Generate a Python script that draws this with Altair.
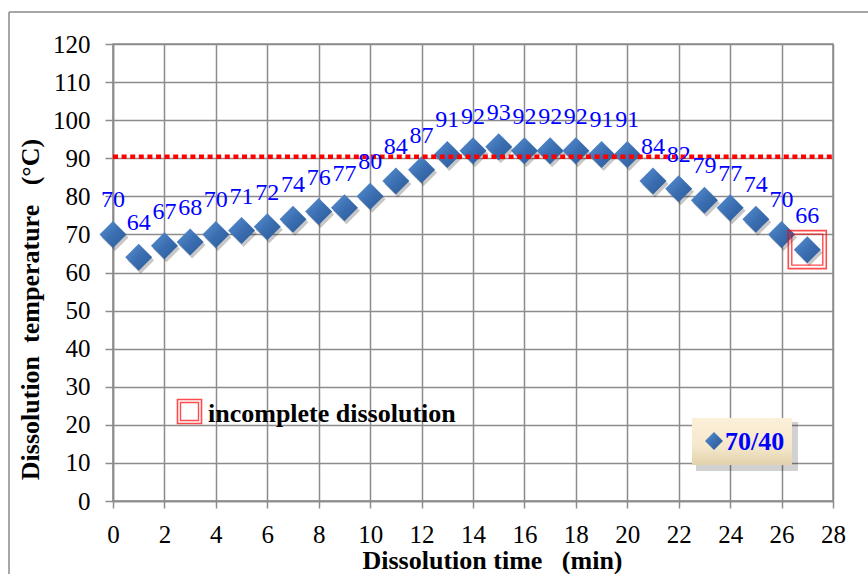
import altair as alt
import pandas as pd

# ---- data ----
time_min = list(range(28))
temperature = [70, 64, 67, 68, 70, 71, 72, 74, 76, 77, 80, 84, 87, 91, 92, 93,
               92, 92, 92, 91, 91, 84, 82, 79, 77, 74, 70, 66]
x_ticks = list(range(0, 29, 2))
y_ticks = list(range(0, 121, 10))
threshold = 90.4
incomplete_time = [27]
incomplete_temp = [66]
series_name = "70/40"
NB = "\u00a0"
x_title = "Dissolution time" + NB * 3 + "(min)"
y_title = "Dissolution" + NB * 2 + "temperature" + NB * 3 + "(°C)"

df = pd.DataFrame({"t": time_min, "T": temperature})
df_inc = pd.DataFrame({"t": incomplete_time, "T": incomplete_temp})
one = pd.DataFrame({"a": [0]})

SERIF = "Liberation Serif"
GRID = "#8c8c8c"

xs = alt.Scale(domain=[0, 28], nice=False, zero=False)
ys = alt.Scale(domain=[0, 120], nice=False)

x_axis = alt.Axis(values=x_ticks, title=x_title, grid=True, labelOverlap=False,
                  labelFlush=False,
                  tickSize=7, labelPadding=14, labelFontSize=25, labelFont=SERIF,
                  labelColor="black", titleFont=SERIF, titleFontSize=26,
                  titleFontWeight="bold", titleColor="black",
                  titleX=379, titleY=67, titleAlign="center",
                  titleBaseline="alphabetic", labelAngle=0)
y_axis = alt.Axis(values=y_ticks, title=y_title, grid=True, labelOverlap=False,
                  labelFlush=False,
                  tickSize=8, labelPadding=15, labelFontSize=25, labelFont=SERIF,
                  labelColor="black", titleFont=SERIF, titleFontSize=26,
                  titleFontWeight="bold", titleColor="black",
                  titleX=-75, titleY=265, titleAlign="center",
                  titleBaseline="alphabetic", titleAngle=-90)

X = alt.X("t:Q", scale=xs, axis=x_axis)
Y = alt.Y("T:Q", scale=ys, axis=y_axis)

diamond_grad = alt.LinearGradient(
    gradient="linear",
    stops=[alt.GradientStop(color="#5a92d4", offset=0),
           alt.GradientStop(color="#3b6fb2", offset=0.5),
           alt.GradientStop(color="#2b5a96", offset=1)],
    x1=0, y1=0, x2=1, y2=1)

base = alt.Chart(df)

shadow = base.mark_point(shape="diamond", filled=True, color="#000000",
                         opacity=0.22, size=729, xOffset=2, yOffset=3,
                         strokeWidth=0).encode(x=X, y=Y)

points = base.mark_point(shape="diamond", filled=True, fill=diamond_grad,
                         size=729, strokeWidth=0, opacity=1).encode(x=X, y=Y)

labels = base.mark_text(font=SERIF, fontSize=24, color="#0000ff",
                        align="center", baseline="alphabetic", dy=-27).encode(
    x=X, y=Y, text="T:Q")

thresh = alt.Chart(one).mark_rule(color="#ff0000", strokeWidth=4.5,
                                  strokeDash=[5, 3.6]).encode(
    y=alt.datum(threshold, scale=ys, axis=y_axis), x=alt.value(0), x2=alt.value(720))

box_outer = alt.Chart(df_inc).mark_square(filled=False, color="#ff0000",
                                          strokeWidth=1.6, size=38 * 38).encode(x=X, y=Y)
box_inner = alt.Chart(df_inc).mark_square(filled=False, color="#ff0000",
                                          strokeWidth=1.4, size=31 * 31).encode(x=X, y=Y)

# annotation "incomplete dissolution"
ann_sq1 = alt.Chart(one).mark_square(filled=False, color="#ff0000",
                                     strokeWidth=1.6, size=24 * 24).encode(
    x=alt.value(76.5), y=alt.value(367.5))
ann_sq2 = alt.Chart(one).mark_square(filled=False, color="#ff0000",
                                     strokeWidth=1.4, size=18 * 18).encode(
    x=alt.value(76.5), y=alt.value(367.5))
ann_txt = alt.Chart(one).mark_text(font=SERIF, fontSize=26, fontWeight="bold",
                                   color="black", align="left",
                                   baseline="alphabetic").encode(
    x=alt.value(95), y=alt.value(378), text=alt.value("incomplete dissolution"))

# legend box
leg_grad = alt.LinearGradient(
    gradient="linear",
    stops=[alt.GradientStop(color="#fdf0d9", offset=0),
           alt.GradientStop(color="#f5e8cc", offset=0.6),
           alt.GradientStop(color="#e2d1ab", offset=1)],
    x1=0, y1=0, x2=0, y2=1)
leg_shadow = alt.Chart(one).mark_rect(color="#000000", opacity=0.18).encode(
    x=alt.value(583), x2=alt.value(685), y=alt.value(378), y2=alt.value(427))
leg_box = alt.Chart(one).mark_rect(fill=leg_grad, strokeWidth=0).encode(
    x=alt.value(579), x2=alt.value(679), y=alt.value(374), y2=alt.value(421))
leg_sym = alt.Chart(one).mark_point(shape="diamond", filled=True,
                                    fill=diamond_grad, size=18 * 18,
                                    strokeWidth=0, opacity=1).encode(
    x=alt.value(601), y=alt.value(397))
leg_txt = alt.Chart(one).mark_text(font=SERIF, fontSize=26, fontWeight="bold",
                                   color="#0000ff", align="left",
                                   baseline="alphabetic").encode(
    x=alt.value(612), y=alt.value(406), text=alt.value(series_name))

# outer frame
frame_top = alt.Chart(one).mark_rule(color="#8a8a8a", strokeWidth=1.5).encode(
    x=alt.value(-104), x2=alt.value(800), y=alt.value(-32))
frame_left = alt.Chart(one).mark_rule(color="#8a8a8a", strokeWidth=1.5).encode(
    x=alt.value(-104), y=alt.value(-32), y2=alt.value(560))

chart = alt.layer(
    shadow, points, thresh, labels, box_outer, box_inner,
    ann_sq1, ann_sq2, ann_txt, leg_shadow, leg_box, leg_sym, leg_txt,
    frame_top, frame_left
).properties(
    width=720, height=457,
    autosize=alt.AutoSizeParams(type="none"),
    padding={"left": 113, "top": 44, "right": 35, "bottom": 73},
    background="white"
).configure_axis(
    gridColor=GRID, gridWidth=1.5, gridOpacity=1,
    domainColor=GRID, domainWidth=1.5,
    tickColor=GRID, tickWidth=1.5,
    labelFont=SERIF, labelFontSize=25, labelColor="black",
    labelOverlap=False, labelFlush=False
).configure_text(font=SERIF)

chart = chart.configure_view(stroke=GRID, strokeWidth=1.5)

chart.save("out.html", embed_options={"renderer": "svg", "actions": False})
